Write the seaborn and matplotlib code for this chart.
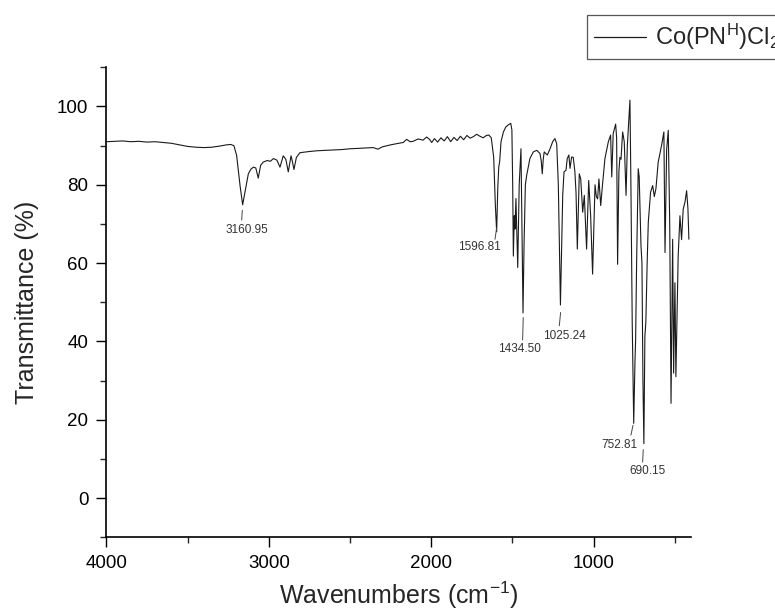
import matplotlib
matplotlib.use("Agg")
import matplotlib.pyplot as plt
import seaborn as sns
import pandas as pd
from matplotlib.ticker import MultipleLocator

# ---- data ----
wavenumber = [
    4000, 3950, 3900, 3850, 3800, 3750, 3700, 3650, 3600, 3550, 3500, 3450, 3400, 3350, 3300,
    3260, 3235, 3215, 3198, 3177, 3160.95, 3147, 3126, 3110, 3095, 3080, 3065, 3050, 3034, 3010,
    2990, 2972, 2950, 2931, 2911, 2895, 2880, 2863, 2855, 2845, 2830, 2808, 2750, 2700, 2650,
    2600, 2550, 2500, 2450, 2400, 2357, 2328, 2300, 2250, 2200, 2172, 2151, 2130, 2112, 2080,
    2050, 2028, 2010, 1997, 1980, 1960, 1940, 1920, 1900, 1880, 1860, 1840, 1820, 1800, 1780,
    1760, 1740, 1720, 1700, 1680, 1660, 1645, 1630, 1615, 1605, 1596.81, 1590, 1584, 1578, 1570,
    1555, 1540, 1525, 1510, 1503, 1498, 1494, 1488, 1484, 1478, 1467, 1458, 1447, 1441, 1434.5,
    1428, 1420, 1412, 1392, 1371, 1350, 1330, 1322, 1316, 1310, 1304, 1285, 1268, 1252, 1238,
    1227, 1217, 1204, 1190, 1182, 1170, 1162, 1152, 1145, 1135, 1125, 1115, 1108, 1100, 1088,
    1079, 1067, 1057, 1043, 1030, 1018, 1006, 991, 983, 975, 967, 956, 945, 930, 909,
    895, 888, 879, 864, 858, 852, 844, 838, 831, 821, 811, 800, 792, 776, 770,
    762, 752.81, 745, 741, 735, 725, 719, 708, 702, 696, 690.15, 684, 678, 670, 663,
    649, 636, 626, 616, 602, 581, 567, 560, 550, 540, 531, 523, 513, 507, 499,
    493, 479, 468, 458, 448, 437, 427, 419, 413,
]
transmittance = [
    91.0, 91.1, 91.2, 91.0, 91.1, 90.9, 91.0, 90.8, 90.6, 90.2, 89.8, 89.6, 89.5, 89.6, 89.9,
    90.2, 90.3, 90.0, 87.5, 79.8, 74.9, 78.1, 82.8, 84.0, 84.5, 84.3, 81.7, 85.0, 85.8, 86.2,
    86.0, 86.7, 86.3, 84.5, 87.4, 86.5, 83.3, 87.4, 86.0, 83.9, 87.0, 88.2, 88.5, 88.7, 88.8,
    88.9, 89.0, 89.2, 89.3, 89.4, 89.5, 89.1, 89.7, 90.2, 90.6, 90.8, 91.6, 91.0, 91.1, 91.7,
    91.4, 92.2, 91.6, 90.8, 91.8, 90.9, 92.0, 91.2, 92.3, 91.0, 92.1, 91.3, 92.4, 91.5, 92.6,
    91.9, 92.3, 92.9, 92.4, 92.0, 92.6, 92.7, 92.0, 87.0, 75.0, 68.0, 79.0, 84.5, 86.0, 91.0,
    93.5, 94.8, 95.3, 95.7, 94.0, 80.0, 61.8, 72.1, 68.7, 76.5, 58.9, 80.0, 89.2, 70.0, 47.3,
    65.0, 80.0, 82.4, 86.7, 88.4, 88.8, 88.0, 86.0, 82.8, 86.5, 88.4, 87.6, 89.2, 91.0, 91.8,
    90.5, 80.0, 49.3, 77.3, 83.3, 83.7, 86.7, 87.6, 84.2, 87.1, 87.0, 83.3, 78.0, 63.6, 82.8,
    81.5, 73.0, 77.3, 63.6, 81.1, 72.1, 57.2, 80.0, 77.0, 76.4, 81.5, 74.7, 80.0, 86.7, 91.0,
    92.7, 82.0, 93.1, 95.5, 92.0, 59.7, 83.3, 87.0, 86.5, 93.5, 91.0, 77.3, 90.0, 101.6, 80.0,
    45.0, 19.1, 35.0, 40.5, 60.0, 84.1, 82.0, 64.4, 60.0, 30.0, 13.9, 41.3, 45.0, 60.0, 70.4,
    78.1, 79.8, 77.0, 79.0, 85.8, 90.1, 93.5, 62.7, 89.0, 93.9, 70.0, 24.2, 66.1, 31.9, 55.0,
    31.0, 61.8, 72.1, 66.0, 73.8, 75.6, 78.5, 74.0, 66.1,
]
series_name = "Co(PN$^\\mathregular{H}$)Cl$_\\mathregular{2}$"

# peak annotations: label text, text position, leader line
peak_labels = ["3160.95", "1596.81", "1434.50", "1025.24", "752.81", "690.15"]
label_x = [3135, 1700, 1458, 1179, 842, 669]
label_y = [68.4, 64.2, 38.1, 41.5, 13.6, 6.8]
leader_x0 = [3163, 1597, 1433, 1203, 757, 694]
leader_y0 = [73.5, 69.0, 46.1, 47.4, 18.6, 12.4]
leader_x1 = [3167, 1607, 1437, 1211, 770, 698]
leader_y1 = [71.0, 66.1, 40.4, 44.0, 16.1, 9.2]

x_ticks = [4000, 3000, 2000, 1000]
y_ticks = [0, 20, 40, 60, 80, 100]

# ---- plotting ----
sns.set_theme(style="ticks")
plt.rcParams["font.family"] = ["Liberation Sans", "DejaVu Sans"]
plt.rcParams["mathtext.fontset"] = "custom"
plt.rcParams["mathtext.rm"] = "Liberation Sans"
plt.rcParams["mathtext.it"] = "Liberation Sans:italic"

df = pd.DataFrame({"Wavenumber": wavenumber, "Transmittance": transmittance})

fig = plt.figure(figsize=(7.75, 6.15), dpi=100)
ax = fig.add_axes([106.4 / 775, 1 - 537.3 / 615, (691 - 106.4) / 775, (537.3 - 67.3) / 615])

sns.lineplot(data=df, x="Wavenumber", y="Transmittance", ax=ax, color="#1a1a1a",
             linewidth=0.8, estimator=None, label=series_name)

ax.set_xlim(4000, 400)
ax.set_ylim(-10, 110)
ax.set_xticks(x_ticks)
ax.set_yticks(y_ticks)
ax.xaxis.set_minor_locator(MultipleLocator(500))
ax.yaxis.set_minor_locator(MultipleLocator(10))
ax.tick_params(axis="both", which="major", direction="out", length=7, width=1.0,
               labelsize=13.5, colors="black", pad=6)
ax.tick_params(axis="both", which="minor", direction="out", length=4, width=1.0)
for side in ["top", "right"]:
    ax.spines[side].set_visible(False)
for side in ["left", "bottom"]:
    ax.spines[side].set_linewidth(1.2)
    ax.spines[side].set_color("black")

ax.set_xlabel("Wavenumbers (cm$^{\\mathregular{-1}}$)", fontsize=18, labelpad=5)
ax.set_ylabel("Transmittance (%)", fontsize=18, labelpad=13)

for t, tx, ty, x0, y0, x1, y1 in zip(peak_labels, label_x, label_y,
                                       leader_x0, leader_y0, leader_x1, leader_y1):
    ax.plot([x0, x1], [y0, y1], color="#444444", linewidth=0.7)
    ax.text(tx, ty, t, fontsize=8.5, color="#333333", ha="center", va="center")

leg = ax.legend(loc="upper left", bbox_to_anchor=(587 / 775, 1 - 15 / 615),
                bbox_transform=fig.transFigure, frameon=True, fancybox=False,
                framealpha=1, edgecolor="#555555", fontsize=17, handlelength=2.2,
                borderpad=0.3, handletextpad=0.4, borderaxespad=0)
leg.get_frame().set_linewidth(0.9)
for line in leg.get_lines():
    line.set_linewidth(0.9)

fig.savefig("out.png", dpi=100)
